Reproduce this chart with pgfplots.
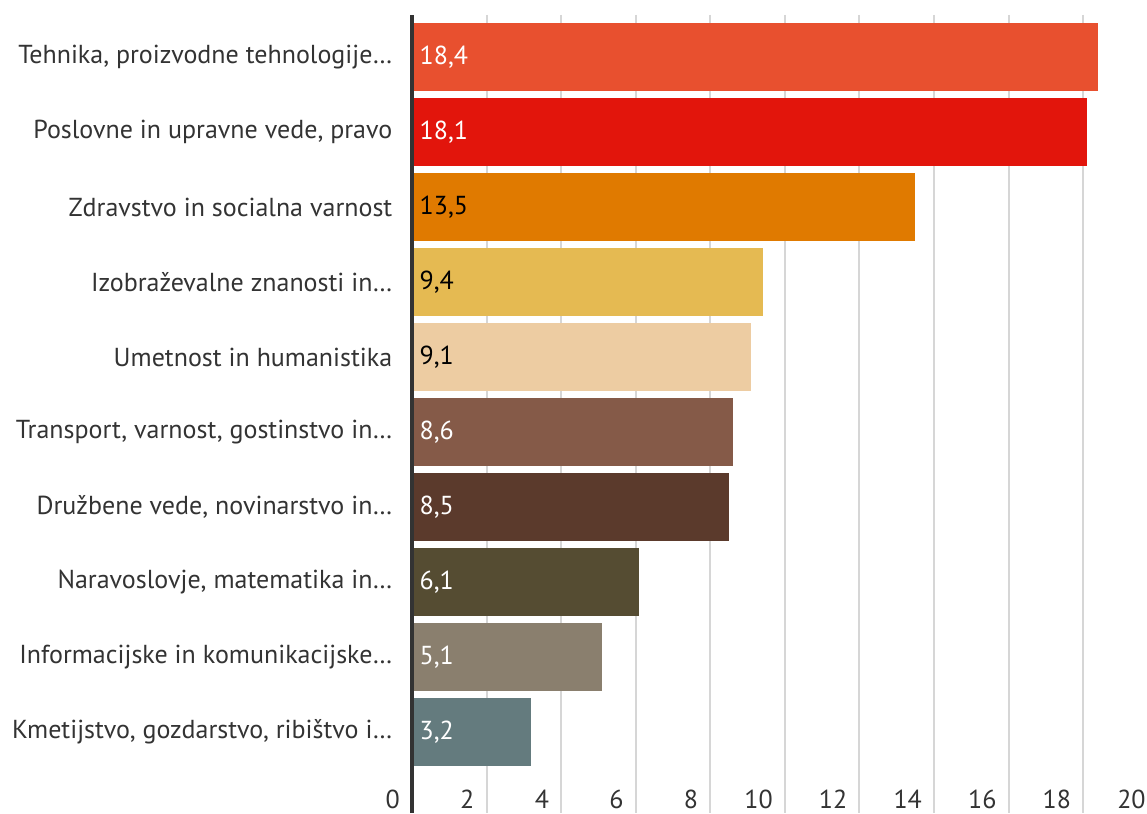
\documentclass[border=0pt]{standalone}
\usepackage{pgfplots}
\pgfplotsset{compat=1.18}
\usepackage{fontspec}
\setmainfont{PT Sans}
\definecolor{c1}{HTML}{E8502F}
\definecolor{c2}{HTML}{E2150C}
\definecolor{c3}{HTML}{E07A00}
\definecolor{c4}{HTML}{E5BA52}
\definecolor{c5}{HTML}{EDCCA2}
\definecolor{c6}{HTML}{855A48}
\definecolor{c7}{HTML}{5B3A2C}
\definecolor{c8}{HTML}{554C32}
\definecolor{c9}{HTML}{8A7F6E}
\definecolor{c10}{HTML}{647B7E}
\definecolor{txt}{HTML}{333333}
\definecolor{gridc}{HTML}{D6D6D6}
\begin{document}
\begin{tikzpicture}
\begin{axis}[
  scale only axis, width=735pt, height=798pt,
  xmin=0, xmax=19.71, ymin=-0.56, ymax=10.08, y dir=reverse,
  xbar, bar shift=0pt, bar width=0.907,
  xtick={0,2,...,18}, ytick={0,...,9},
  yticklabels={Tehnika{,} proizvodne tehnologije…, Poslovne in upravne vede{,} pravo, Zdravstvo in socialna varnost, Izobraževalne znanosti in…, Umetnost in humanistika, Transport{,} varnost{,} gostinstvo in…, Družbene vede{,} novinarstvo in…, Naravoslovje{,} matematika in…, Informacijske in komunikacijske…, Kmetijstvo{,} gozdarstvo{,} ribištvo i…},
  major tick length=0pt,
  xmajorgrids, major grid style={draw=gridc, line width=2pt},
  axis line style={draw=none},
  tick label style={font=\fontsize{26}{30}\selectfont, text=txt},
  yticklabel style={anchor=east, inner sep=0pt, xshift=-19.5pt},
  xticklabel style={anchor=base east, inner sep=0pt, xshift=-12pt, yshift=5pt},
  /pgf/number format/assume math mode=true,
  clip=false,
]
\addplot[fill=c1, draw=none] coordinates {(18.4,0)};
\addplot[fill=c2, draw=none] coordinates {(18.1,1)};
\addplot[fill=c3, draw=none] coordinates {(13.5,2)};
\addplot[fill=c4, draw=none] coordinates {(9.4,3)};
\addplot[fill=c5, draw=none] coordinates {(9.1,4)};
\addplot[fill=c6, draw=none] coordinates {(8.6,5)};
\addplot[fill=c7, draw=none] coordinates {(8.5,6)};
\addplot[fill=c8, draw=none] coordinates {(6.1,7)};
\addplot[fill=c9, draw=none] coordinates {(5.1,8)};
\addplot[fill=c10, draw=none] coordinates {(3.2,9)};
\addplot[only marks, mark=*, mark size=0pt, mark options={draw=none, fill=none},
  nodes near coords, point meta=explicit symbolic,
  every node near coord/.append style={anchor=west, text=white, inner sep=0pt, xshift=7.5pt, yshift=0pt, font=\fontsize{26}{30}\selectfont}]
  table[meta=m] {
x y m
0 0 18,4
0 1 18,1
0 5 8,6
0 6 8,5
0 7 6,1
0 8 5,1
0 9 3,2
};
\addplot[only marks, mark=*, mark size=0pt, mark options={draw=none, fill=none},
  nodes near coords, point meta=explicit symbolic,
  every node near coord/.append style={anchor=west, text=black, inner sep=0pt, xshift=7.5pt, yshift=0pt, font=\fontsize{26}{30}\selectfont}]
  table[meta=m] {
x y m
0 2 13,5
0 3 9,4
0 4 9,1
};
\draw[draw=txt, line width=4pt] (axis description cs:0,0) -- (axis description cs:0,1);
\node[anchor=base east, inner sep=0pt, xshift=-12pt, yshift=5pt, font=\fontsize{26}{30}\selectfont, text=txt] at (axis description cs:{20/19.71},0) {20};
\coordinate (O) at (axis description cs:0,0);
\end{axis}
\pgfresetboundingbox
\path (O) ++(-412pt,0pt) rectangle ++(1147pt,813pt);
\end{tikzpicture}
\end{document}
